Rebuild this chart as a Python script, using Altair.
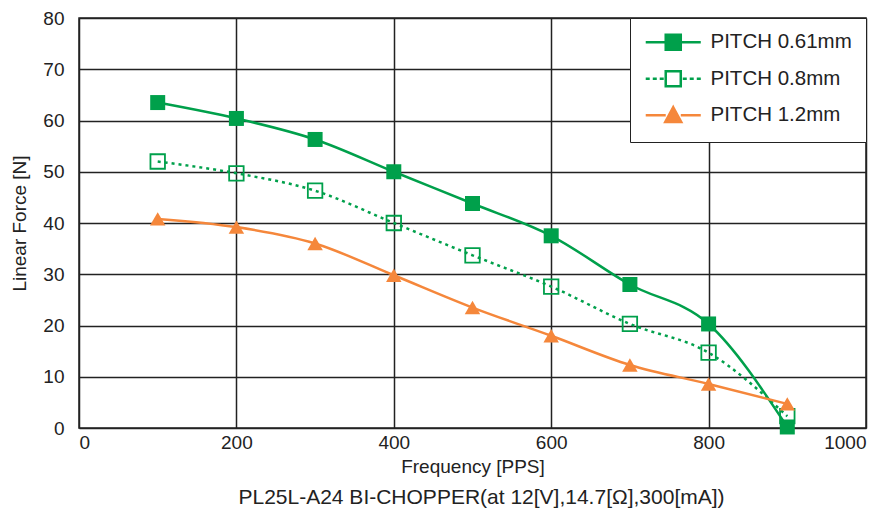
import altair as alt
import pandas as pd

# ---- data ----
freq = [100, 200, 300, 400, 500, 600, 700, 800, 900]
pitch_061 = [63.5, 60.4, 56.3, 50.0, 43.8, 37.5, 28.0, 20.3, 0.2]
pitch_08 = [52.0, 49.7, 46.3, 40.0, 33.7, 27.6, 20.3, 14.7, 2.3]
pitch_12 = [40.8, 39.2, 36.0, 29.8, 23.5, 18.0, 12.3, 8.6, 4.7]
series_names = ["PITCH 0.61mm", "PITCH 0.8mm", "PITCH 1.2mm"]
x_ticks = [0, 200, 400, 600, 800, 1000]
y_ticks = [0, 10, 20, 30, 40, 50, 60, 70, 80]
caption = "PL25L-A24 BI-CHOPPER(at 12[V],14.7[\u03a9],300[mA])"

rows = []
for name, vals in zip(series_names, [pitch_061, pitch_08, pitch_12]):
    for f, v in zip(freq, vals):
        rows.append({"freq": f, "force": v, "series": name})
df = pd.DataFrame(rows)

GREEN = "#00a04b"
ORANGE = "#f5873b"
INK = "#222222"
FONT = "Liberation Sans"

# legend symbol paths (line + marker); unit = sqrt(symbolSize)/2 = 8px
L = 3.44
M = 0.94
def solid_line():
    return f"M {-L} 0 L {-M} 0 M {M} 0 L {L} 0 "
def dotted_line():
    segs = []
    for a, b in [(-3.44, -2.94), (-2.56, -2.06), (-1.69, -1.19)]:
        segs.append(f"M {a} 0 L {b} 0 ")
        segs.append(f"M {-b} 0 L {-a} 0 ")
    return "".join(segs)
square = f"M {-M} {-M} L {M} {-M} L {M} {M} L {-M} {M} Z"
triangle = "M 0 -1 L 1 0.85 L -1 0.85 Z"
legend_paths = [solid_line() + square, dotted_line() + square, solid_line() + triangle]

x = alt.X("freq:Q", scale=alt.Scale(domain=[0, 1000], nice=False),
          axis=alt.Axis(values=x_ticks, title="Frequency [PPS]", format="d"))
y = alt.Y("force:Q", scale=alt.Scale(domain=[0, 80], nice=False),
          axis=alt.Axis(values=y_ticks, title="Linear Force [N]"))

base = alt.Chart(df)

def only(i):
    return base.transform_filter(alt.datum.series == series_names[i])

l1 = only(0).mark_line(interpolate="monotone", strokeWidth=2.5, color=GREEN).encode(x=x, y=y)
l2 = only(1).mark_line(interpolate="monotone", strokeWidth=2.5, color=GREEN, strokeDash=[3, 4]).encode(x=x, y=y)
l3 = only(2).mark_line(interpolate="monotone", strokeWidth=2.5, color=ORANGE).encode(x=x, y=y)

p1 = only(0).mark_point(shape="square", filled=True, size=225, color=GREEN, opacity=1).encode(x=x, y=y)
p2 = only(1).mark_point(shape="square", filled=False, size=210, color=GREEN, strokeWidth=1.8, opacity=1).encode(x=x, y=y)
p3 = only(2).mark_point(shape="triangle-up", filled=True, size=240, color=ORANGE, opacity=1).encode(x=x, y=y)

# invisible layer whose only job is to supply the legend
leg = base.mark_point(opacity=0, strokeWidth=2.5).encode(
    x=x, y=y,
    fill=alt.Fill("series:N", scale=alt.Scale(domain=series_names, range=[GREEN, "transparent", ORANGE]), legend=alt.Legend(title=None)),
    stroke=alt.Stroke("series:N", scale=alt.Scale(domain=series_names, range=[GREEN, GREEN, ORANGE]), legend=alt.Legend(title=None)),
    shape=alt.Shape("series:N", scale=alt.Scale(domain=series_names, range=legend_paths), legend=alt.Legend(title=None)),
)

chart = alt.layer(l1, l2, l3, p1, p2, p3, leg).properties(
    width=787, height=410,
    autosize=alt.AutoSizeParams(type="none"),
    padding={"left": 71, "top": 10, "right": 10, "bottom": 80},
    title=alt.TitleParams(text=caption, orient="bottom", anchor="middle", frame="group",
                          fontSize=21, font=FONT, fontWeight="normal", color=INK, offset=11, dx=9),
).configure_view(
    stroke=INK, strokeWidth=1.5
).configure_axis(
    grid=True, gridColor=INK, gridWidth=1.5, gridOpacity=1,
    domain=False, ticks=False,
    labelFont=FONT, labelFontSize=19, labelColor=INK,
    titleFont=FONT, titleFontSize=19, titleColor=INK, titleFontWeight="normal",
).configure_axisX(
    labelPadding=5, titlePadding=5,
).configure_axisY(
    labelPadding=15, titlePadding=13,
).configure_legend(
    orient="top-right", offset=0, padding=14,
    fillColor="white", strokeColor=INK,
    labelFont=FONT, labelFontSize=20.5, labelColor=INK,
    symbolSize=256, symbolStrokeWidth=2.5, symbolOffset=19, labelOffset=27,
    symbolOpacity=1, rowPadding=10.5,
)

chart.save("out.html", embed_options={"renderer": "svg", "actions": False})
